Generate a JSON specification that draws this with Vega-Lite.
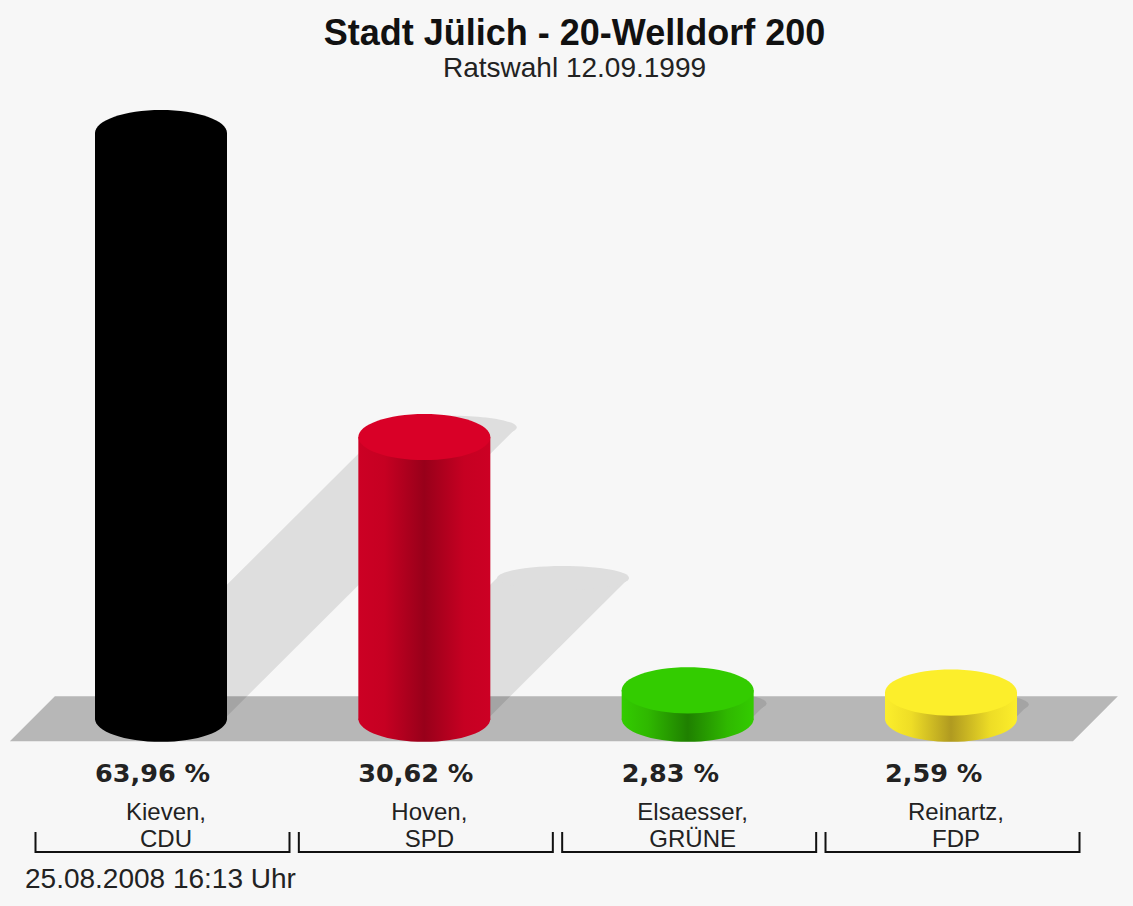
{
"$schema":"https://vega.github.io/schema/vega-lite/v6.json",
"width":1133,"height":906,"padding":0,"autosize":"none","background":"#f7f7f7",
"title":{"text":"Stadt Jülich - 20-Welldorf 200","subtitle":"Ratswahl 12.09.1999","anchor":"middle","dx":8,"offset":-84,"font":"Liberation Sans","fontSize":36,"fontWeight":"bold","color":"#111111","subtitleFont":"Liberation Sans","subtitleFontSize":28,"subtitleColor":"#222222","subtitlePadding":2},
"config":{"view":{"stroke":null}},
"data":{"values":[
{"rank":1,"name":"Kieven","party":"CDU","value":63.96,"pct":"63,96 %","label":"Kieven,\nCDU"},
{"rank":2,"name":"Hoven","party":"SPD","value":30.62,"pct":"30,62 %","label":"Hoven,\nSPD"},
{"rank":3,"name":"Elsaesser","party":"GRÜNE","value":2.83,"pct":"2,83 %","label":"Elsaesser,\nGRÜNE"},
{"rank":4,"name":"Reinartz","party":"FDP","value":2.59,"pct":"2,59 %","label":"Reinartz,\nFDP"}
]},
"encoding":{
"x":{"field":"rank","type":"quantitative","scale":{"domain":[0.3886,4.6911],"zero":false,"nice":false,"padding":0},"axis":null},
"y":{"field":"value","type":"quantitative","scale":{"domain":[-20.82,78.55],"zero":false,"nice":false,"padding":0},"axis":null}
},
"layer":[
{"transform":[{"calculate":"[0,1]","as":"t"},{"flatten":["t"]},
{"calculate":"datum.rank+datum.t*datum.value*0.0172-0.2506","as":"sl"},
{"calculate":"datum.rank+datum.t*datum.value*0.0172+0.2506","as":"sr"},
{"calculate":"datum.t*datum.value*0.495","as":"sy"}],
"mark":{"type":"area","orient":"horizontal","color":"#dedede"},
"encoding":{"x":{"field":"sl","type":"quantitative","axis":null},"x2":{"field":"sr"},"y":{"field":"sy","type":"quantitative","axis":null},"detail":{"field":"party"}}},
{"transform":[{"calculate":"datum.rank+datum.value*0.0172","as":"ex"},{"calculate":"datum.value*0.495","as":"ey"}],
"mark":{"type":"point","filled":true,"opacity":1,"color":"#dedede","size":17424,"shape":"M-1,0 A1,0.18 0 1 1 1,0 A1,0.18 0 1 1 -1,0 Z"},
"encoding":{"x":{"field":"ex","type":"quantitative","axis":null},"y":{"field":"ey","type":"quantitative","axis":null}}},
{"transform":[{"filter":"datum.rank===1"}],"mark":{"type":"point","filled":true,"opacity":0.26,"color":"#000000","size":1227664,"yOffset":2.5,"shape":"M-1,0.0406 L0.9188,0.0406 L1,-0.0406 L-0.9188,-0.0406 Z"},
"encoding":{"x":{"datum":2.53,"type":"quantitative","axis":null},"y":{"datum":0,"type":"quantitative","axis":null}}},
{"transform":[{"filter":"datum.party==='CDU'"}],"layer":[
{"mark":{"type":"point","filled":true,"opacity":1,"size":17424,"strokeWidth":0,"yOffset":2.5,"fill":"#000000","shape":"M-1,0 L1,0 A1,0.35 0 0 1 -1,0 Z"},"encoding":{"y":{"datum":0,"type":"quantitative","axis":null}}},
{"mark":{"type":"bar","orient":"vertical","size":132,"fill":"#000000"},"encoding":{"y2":{"datum":-0.38}}}]},
{"transform":[{"filter":"datum.party==='SPD'"}],"layer":[
{"mark":{"type":"point","filled":true,"opacity":1,"size":17424,"strokeWidth":0,"yOffset":2.5,"fill":{"gradient":"linear","x1":0,"x2":1,"y1":0,"y2":0,"stops":[{"offset":0,"color":"#cc0024"},{"offset":0.2,"color":"#c60022"},{"offset":0.5,"color":"#98001a"},{"offset":0.8,"color":"#c60022"},{"offset":1,"color":"#cc0024"}]},"shape":"M-1,0 L1,0 A1,0.35 0 0 1 -1,0 Z"},"encoding":{"y":{"datum":0,"type":"quantitative","axis":null}}},
{"mark":{"type":"bar","orient":"vertical","size":132,"fill":{"gradient":"linear","x1":0,"x2":1,"y1":0,"y2":0,"stops":[{"offset":0,"color":"#cc0024"},{"offset":0.2,"color":"#c60022"},{"offset":0.5,"color":"#98001a"},{"offset":0.8,"color":"#c60022"},{"offset":1,"color":"#cc0024"}]}},"encoding":{"y2":{"datum":-0.38}}}]},
{"transform":[{"filter":"datum.party==='GRÜNE'"}],"layer":[
{"mark":{"type":"point","filled":true,"opacity":1,"size":17424,"strokeWidth":0,"yOffset":2.5,"fill":{"gradient":"linear","x1":0,"x2":1,"y1":0,"y2":0,"stops":[{"offset":0,"color":"#33cc00"},{"offset":0.2,"color":"#2fb800"},{"offset":0.5,"color":"#1f8000"},{"offset":0.8,"color":"#2fb800"},{"offset":1,"color":"#33cc00"}]},"shape":"M-1,0 L1,0 A1,0.35 0 0 1 -1,0 Z"},"encoding":{"y":{"datum":0,"type":"quantitative","axis":null}}},
{"mark":{"type":"bar","orient":"vertical","size":132,"fill":{"gradient":"linear","x1":0,"x2":1,"y1":0,"y2":0,"stops":[{"offset":0,"color":"#33cc00"},{"offset":0.2,"color":"#2fb800"},{"offset":0.5,"color":"#1f8000"},{"offset":0.8,"color":"#2fb800"},{"offset":1,"color":"#33cc00"}]}},"encoding":{"y2":{"datum":-0.38}}}]},
{"transform":[{"filter":"datum.party==='FDP'"}],"layer":[
{"mark":{"type":"point","filled":true,"opacity":1,"size":17424,"strokeWidth":0,"yOffset":2.5,"fill":{"gradient":"linear","x1":0,"x2":1,"y1":0,"y2":0,"stops":[{"offset":0,"color":"#fcee2b"},{"offset":0.2,"color":"#eedd26"},{"offset":0.5,"color":"#b09a20"},{"offset":0.8,"color":"#eedd26"},{"offset":1,"color":"#fcee2b"}]},"shape":"M-1,0 L1,0 A1,0.35 0 0 1 -1,0 Z"},"encoding":{"y":{"datum":0,"type":"quantitative","axis":null}}},
{"mark":{"type":"bar","orient":"vertical","size":132,"fill":{"gradient":"linear","x1":0,"x2":1,"y1":0,"y2":0,"stops":[{"offset":0,"color":"#fcee2b"},{"offset":0.2,"color":"#eedd26"},{"offset":0.5,"color":"#b09a20"},{"offset":0.8,"color":"#eedd26"},{"offset":1,"color":"#fcee2b"}]}},"encoding":{"y2":{"datum":-0.38}}}]},
{"mark":{"type":"point","filled":true,"opacity":1,"size":17424,"strokeWidth":0,"shape":"M-1,0 A1,0.35 0 1 1 1,0 A1,0.35 0 1 1 -1,0 Z"},
"encoding":{"color":{"field":"party","type":"nominal","legend":null,"scale":{"domain":["CDU","SPD","GRÜNE","FDP"],"range":["#000000","#d90027","#33cc00","#fcee2b"]}}}},
{"mark":{"type":"text","align":"left","baseline":"alphabetic","dx":-66,"dy":65.8,"font":"DejaVu Sans","fontSize":25.5,"fontWeight":"bold","color":"#222222"},
"encoding":{"y":{"datum":0,"type":"quantitative","axis":null},"text":{"field":"pct"}}},
{"mark":{"type":"text","align":"center","baseline":"alphabetic","dx":5,"dy":103.8,"lineBreak":"\n","lineHeight":27,"font":"Liberation Sans","fontSize":24,"color":"#222222"},
"encoding":{"y":{"datum":0,"type":"quantitative","axis":null},"text":{"field":"label"}}},
{"mark":{"type":"point","filled":false,"opacity":1,"color":"#111111","strokeWidth":2,"size":64516,"xOffset":1.5,"yOffset":135.8,"shape":"M-1,-0.157 L-1,0 L1,0 L1,-0.157"},
"encoding":{"y":{"datum":0,"type":"quantitative","axis":null}}},
{"transform":[{"filter":"datum.rank===1"}],"mark":{"type":"text","align":"left","baseline":"alphabetic","dy":171.8,"font":"Liberation Sans","fontSize":28,"color":"#222222","text":"25.08.2008 16:13 Uhr"},
"encoding":{"x":{"datum":0.4835,"type":"quantitative","axis":null},"y":{"datum":0,"type":"quantitative","axis":null}}}
]
}
